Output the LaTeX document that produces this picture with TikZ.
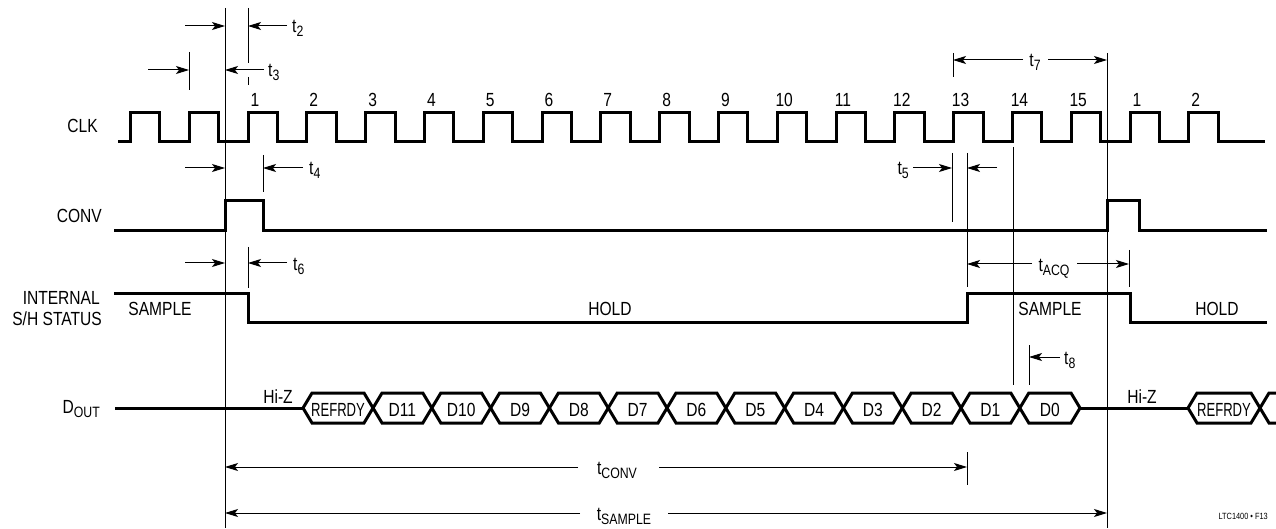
\documentclass[tikz,border=0pt]{standalone}
\usepackage{fontspec}
\setmainfont{Liberation Sans}[FakeStretch=0.82]
\usetikzlibrary{arrows.meta}
\newcommand\sbs[1]{\raisebox{-4pt}{\fontsize{15}{16}\selectfont #1}}
\begin{document}
\begin{tikzpicture}[x=1pt,y=-1pt,
  sig/.style={line width=3pt,line join=miter},
  thinl/.style={line width=1pt},
  dim/.style={line width=1pt,-{Stealth[length=13pt,width=8pt,inset=3pt]}},
  lbl/.style={font=\fontsize{19}{21}\selectfont,inner sep=0pt},
  tlbl/.style={lbl,anchor=base west},
  hexs/.style={line width=3pt,line join=miter}]
\useasboundingbox (0,0) rectangle (1276,529);

% signal names
\node[lbl,anchor=base east] (clk) at (98,133) {CLK};
\node[lbl,anchor=base east] (conv) at (102,223) {CONV};
\node[lbl,anchor=base east] (int) at (100,304) {INTERNAL};
\node[lbl,anchor=base east] (sh) at (102,325) {S/H STATUS};
\node[lbl,anchor=base east] (dout) at (100,413) {D\sbs{OUT}};

% CLK waveform
\draw[sig] (118,142) \foreach \k in {-2,...,16} { -- ({248+\k*58.8},142) -- ++(0,-29) -- ++(29.4,0) -- ++(0,29) } -- (1265,142);
\foreach \n in {1,...,15} \node[lbl,anchor=base] (n\n) at ({248+(\n-1)*58.8+7},107) {\n};
\node[lbl,anchor=base] (m1) at ({248+15*58.8+7},107) {1};
\node[lbl,anchor=base] (m2) at ({248+16*58.8+7},107) {2};

% CONV waveform
\draw[sig] (114,231) -- (225,231) -- (225,201) -- (263,201) -- (263,231) -- (1107,231) -- (1107,201) -- (1139,201) -- (1139,231) -- (1267,231);

% S/H waveform
\draw[sig] (114,293) -- (248,293) -- (248,322) -- (967,322) -- (967,293) -- (1130,293) -- (1130,322) -- (1267,322);
\node[lbl,anchor=base] (s1) at (160,315) {SAMPLE};
\node[lbl,anchor=base] (h1) at (610,315) {HOLD};
\node[lbl,anchor=base] (s2) at (1050,315) {SAMPLE};
\node[lbl,anchor=base] (h2) at (1217,315) {HOLD};

% DOUT
\draw[sig] (115,408) -- (303,408);
\draw[sig] (1080,408) -- (1188,408);
\foreach \a/\b/\t/\nm in {303/373/{\scalebox{0.84}[1]{REFRDY}}/r1,373/431.8/D11/d11,431.8/490.6/D10/d10,490.6/549.4/D9/d9,549.4/608.2/D8/d8,608.2/667/D7/d7,667/725.8/D6/d6,725.8/784.6/D5/d5,784.6/843.4/D4/d4,843.4/902.2/D3/d3,902.2/961/D2/d2,961/1019.8/D1/d1,1019.8/1080/D0/d0,1188/1260/{\scalebox{0.84}[1]{REFRDY}}/r2}{
  \draw[hexs] (\a,408) -- ({\a+9},393) -- ({\b-9},393) -- (\b,408) -- ({\b-9},423) -- ({\a+9},423) -- cycle;
  \node[lbl,anchor=base] (\nm) at ({(\a+\b)/2},416) {\t};
}
\draw[hexs] (1276,393) -- (1269,393) -- (1260,408) -- (1269,423) -- (1276,423);
\node[lbl,anchor=base] (hz1) at (278,403) {Hi-Z};
\node[lbl,anchor=base] (hz2) at (1142,403) {Hi-Z};

% reference lines
\draw[thinl] (225,8) -- (225,528);
\draw[thinl] (248,8) -- (248,63);
\draw[thinl] (248,77) -- (248,85);
\draw[thinl] (189,52) -- (189,90);
\draw[thinl] (263,155) -- (263,192);
\draw[thinl] (248,247) -- (248,288);
\draw[thinl] (953,53) -- (953,77);
\draw[thinl] (1107,53) -- (1107,528);
\draw[thinl] (952,153) -- (952,222);
\draw[thinl] (967,153) -- (967,287);
\draw[thinl] (1013,147) -- (1013,385);
\draw[thinl] (1029,345) -- (1029,385);
\draw[thinl] (1129,250) -- (1129,287);
\draw[thinl] (967,452) -- (967,485);

% t2
\coordinate (a2) at (185,26); \coordinate (b2) at (225,26);
\coordinate (c2) at (287,26); \coordinate (e2) at (248,26);
\draw[dim] (a2) -- (b2); \draw[dim] (c2) -- (e2);
\node[tlbl] (t2) at (292,33) {t\sbs{2}};
% t3
\coordinate (a3) at (148,70); \coordinate (b3) at (189,70);
\coordinate (c3) at (264,70); \coordinate (e3) at (225,70);
\draw[dim] (a3) -- (b3); \draw[dim] (c3) -- (e3);
\node[tlbl] (t3) at (268,77) {t\sbs{3}};
% t4
\coordinate (a4) at (185,168); \coordinate (b4) at (225,168);
\coordinate (c4) at (303,168); \coordinate (e4) at (263,168);
\draw[dim] (a4) -- (b4); \draw[dim] (c4) -- (e4);
\node[tlbl] (t4) at (309,175) {t\sbs{4}};
% t6
\coordinate (a6) at (185,263); \coordinate (b6) at (225,263);
\coordinate (c6) at (287,263); \coordinate (e6) at (248,263);
\draw[dim] (a6) -- (b6); \draw[dim] (c6) -- (e6);
\node[tlbl] (t6) at (293,270) {t\sbs{6}};
% t5
\coordinate (a5) at (913,168); \coordinate (b5) at (952,168);
\coordinate (c5) at (997,168); \coordinate (e5) at (967,168);
\draw[dim] (a5) -- (b5); \draw[dim] (c5) -- (e5);
\node[lbl,anchor=base east] (t5) at (909,175) {t\sbs{5}};
% t7
\coordinate (a7) at (1023,60); \coordinate (b7) at (953,60);
\coordinate (c7) at (1048,60); \coordinate (e7) at (1107,60);
\draw[dim] (a7) -- (b7); \draw[dim] (c7) -- (e7);
\node[lbl,anchor=base] (t7) at (1035,67) {t\sbs{7}};
% tACQ
\coordinate (aq) at (1032,264); \coordinate (bq) at (967,264);
\coordinate (cq) at (1077,264); \coordinate (eq) at (1129,264);
\draw[dim] (aq) -- (bq); \draw[dim] (cq) -- (eq);
\node[lbl,anchor=base] (tacq) at (1054,271) {t\sbs{ACQ}};
% t8
\coordinate (a8) at (1060,357); \coordinate (b8) at (1029,357);
\draw[dim] (a8) -- (b8);
\node[tlbl] (t8) at (1064,364) {t\sbs{8}};
% tCONV
\coordinate (ac) at (578,467); \coordinate (bc) at (225,467);
\coordinate (cc) at (659,467); \coordinate (ec) at (967,467);
\draw[dim] (ac) -- (bc); \draw[dim] (cc) -- (ec);
\node[lbl,anchor=base] (tconv) at (617,474) {t\sbs{CONV}};
% tSAMPLE
\coordinate (as) at (580,513); \coordinate (bs) at (225,513);
\coordinate (cs) at (668,513); \coordinate (es) at (1107,513);
\draw[dim] (as) -- (bs); \draw[dim] (cs) -- (es);
\node[lbl,anchor=base] (tsam) at (624,520) {t\sbs{SAMPLE}};

\node[inner sep=0pt,anchor=base east,font=\fontsize{9}{10}\selectfont] (fig) at (1268,519) {LTC1400 • F13};
\end{tikzpicture}
\end{document}
